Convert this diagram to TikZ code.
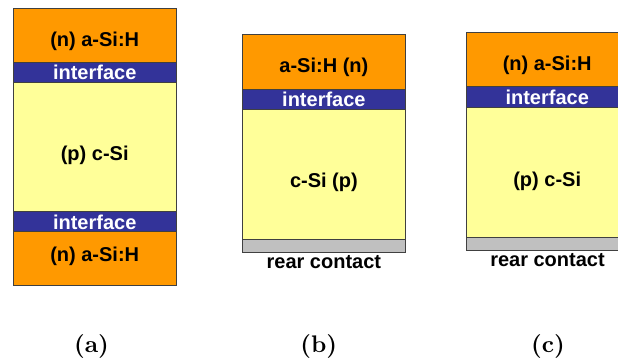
\documentclass[tikz,border=0pt]{standalone}
\usepackage{fontspec}
\newfontfamily\layerfont{Liberation Sans}
\newfontfamily\subfont{lmroman10-bold}[Extension=.otf]
\usetikzlibrary{positioning}

\definecolor{asih}{HTML}{FF9900}
\definecolor{ifblue}{HTML}{333399}
\definecolor{csiyel}{HTML}{FFFF99}
\definecolor{contact}{HTML}{C0C0C0}

\begin{document}
\begin{tikzpicture}[x=1pt,y=-1pt,
    layer/.style={draw=black!75,line width=.8pt,anchor=north west,minimum width=162.5pt,inner sep=0pt,outer sep=0pt},
    nasi/.style={layer,fill=asih},
    intf/.style={layer,fill=ifblue},
    csi/.style={layer,fill=csiyel},
    rear/.style={layer,fill=contact},
    txt/.style={anchor=base,inner sep=0pt,font=\layerfont\bfseries\fontsize{20}{24}\selectfont},
    wtxt/.style={txt,text=white},
    sublabel/.style={anchor=base,inner sep=0pt,font=\subfont\fontsize{24}{28}\selectfont}]
    \useasboundingbox (0,0) rectangle (618,361);
    \clip (0,0) rectangle (618,361);

    % (a) symmetric stack
    \node[nasi,minimum height=54pt] (a1) at (13.5,8.3) {};
    \node[intf,minimum height=20.4pt] (a2) at (13.5,62.3) {};
    \node[csi,minimum height=128.3pt] (a3) at (13.5,82.7) {};
    \node[intf,minimum height=20pt] (a4) at (13.5,211) {};
    \node[nasi,minimum height=54pt] (a5) at (13.5,231) {};

    \node[txt] (ta1) at (94.7,46.5) {(n) a-Si:H};
    \node[wtxt] (ta2) at (94.7,79.6) {interface};
    \node[txt] (ta3) at (94.7,160.8) {(p) c-Si};
    \node[wtxt] (ta4) at (94.7,229.6) {interface};
    \node[txt] (ta5) at (94.7,261.6) {(n) a-Si:H};

    % (b) with rear contact
    \node[nasi,minimum height=54.7pt] (b1) at (242.7,34.3) {};
    \node[intf,minimum height=20pt] (b2) at (242.7,89) {};
    \node[csi,minimum height=130pt] (b3) at (242.7,109) {};
    \node[rear,minimum height=13.3pt] (b4) at (242.7,239) {};

    \node[txt] (tb1) at (323.9,72.5) {a-Si:H (n)};
    \node[wtxt] (tb2) at (323.9,106) {interface};
    \node[txt] (tb3) at (323.9,187.8) {c-Si (p)};
    \node[txt] (tb4) at (323.9,268.3) {rear contact};

    % (c) same as (b), labels swapped
    \node[nasi,minimum height=54pt] (c1) at (466,32.7) {};
    \node[intf,minimum height=20.6pt] (c2) at (466,86.7) {};
    \node[csi,minimum height=130pt] (c3) at (466,107.3) {};
    \node[rear,minimum height=13.4pt] (c4) at (466,237.3) {};

    \node[txt] (tc1) at (547.2,70.2) {(n) a-Si:H};
    \node[wtxt] (tc2) at (547.2,104) {interface};
    \node[txt] (tc3) at (547.2,186) {(p) c-Si};
    \node[txt] (tc4) at (547.5,266.5) {rear contact};

    \node[sublabel] (la) at (91.5,352) {(a)};
    \node[sublabel] (lb) at (318.7,352) {(b)};
    \node[sublabel] (lc) at (548,352) {(c)};
\end{tikzpicture}
\end{document}
